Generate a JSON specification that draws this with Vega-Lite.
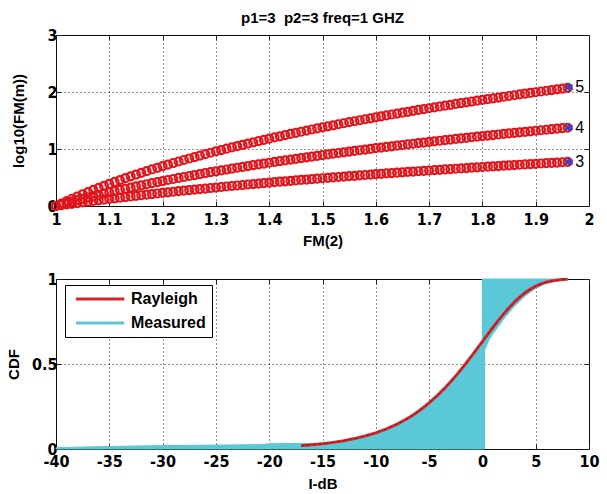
{
  "$schema": "https://vega.github.io/schema/vega-lite/v6.json",
  "background": "white",
  "padding": {"left": 5, "top": 10, "right": 5, "bottom": 5},
  "spacing": 73,
  "bounds": "flush",
  "config": {
    "view": {"stroke": "#111", "strokeWidth": 1},
    "axis": {
      "domain": false, "grid": true, "gridColor": "#000", "gridDash": [1, 3], "gridWidth": 1, "gridOpacity": 0.85,
      "tickColor": "#222", "tickSize": -5,
      "labelFont": "Liberation Sans Narrow, DejaVu Sans Condensed, sans-serif", "labelFontWeight": "bold", "labelFontSize": 16, "labelColor": "#000",
      "titleFont": "Liberation Sans, Arial, sans-serif", "titleFontWeight": "bold", "titleFontSize": 15, "titleColor": "#000",
      "labelFlush": false, "labelOverlap": false, "labelExpr": "'' + datum.value"
    },
    "legend": {
      "orient": "none", "legendX": 9, "legendY": 250, "symbolType": "M-0.5,0H7.4", "symbolSize": 150, "symbolStrokeWidth": 3,
      "labelFont": "Liberation Sans, Arial, sans-serif", "labelFontWeight": "bold", "labelFontSize": 16, "labelColor": "#000",
      "strokeColor": "#000", "fillColor": "#fff", "padding": 6, "rowPadding": 8, "labelOffset": 44, "cornerRadius": 0
    }
  },
  "vconcat": [
    {
      "width": 533,
      "height": 171,
      "title": {"text": "p1=3\u00a0 p2=3 freq=1 GHZ", "frame": "group", "offset": -11, "baseline": "alphabetic", "font": "Liberation Sans, Arial, sans-serif", "fontSize": 15, "fontWeight": "bold", "color": "#000"},
      "layer": [
        {
          "data": {"values": [
            {"x":1,"m3":0,"m4":0,"m5":0},
            {"x":1.01,"m3":0.0132,"m4":0.0263,"m5":0.0436},
            {"x":1.02,"m3":0.026,"m4":0.052,"m5":0.086},
            {"x":1.03,"m3":0.0389,"m4":0.0771,"m5":0.1273},
            {"x":1.04,"m3":0.052,"m4":0.102,"m5":0.167},
            {"x":1.05,"m3":0.0638,"m4":0.1257,"m5":0.2065},
            {"x":1.06,"m3":0.076,"m4":0.149,"m5":0.245},
            {"x":1.07,"m3":0.088,"m4":0.1725,"m5":0.2818},
            {"x":1.08,"m3":0.1,"m4":0.195,"m5":0.318},
            {"x":1.09,"m3":0.1115,"m4":0.2174,"m5":0.3536},
            {"x":1.1,"m3":0.123,"m4":0.239,"m5":0.388},
            {"x":1.11,"m3":0.1343,"m4":0.2606,"m5":0.4222},
            {"x":1.12,"m3":0.146,"m4":0.282,"m5":0.455},
            {"x":1.13,"m3":0.1565,"m4":0.3024,"m5":0.4879},
            {"x":1.14,"m3":0.167,"m4":0.323,"m5":0.52},
            {"x":1.15,"m3":0.1781,"m4":0.3427,"m5":0.5509},
            {"x":1.16,"m3":0.189,"m4":0.362,"m5":0.582},
            {"x":1.17,"m3":0.1992,"m4":0.3818,"m5":0.6116},
            {"x":1.18,"m3":0.21,"m4":0.401,"m5":0.641},
            {"x":1.19,"m3":0.2197,"m4":0.4196,"m5":0.67},
            {"x":1.2,"m3":0.23,"m4":0.438,"m5":0.698},
            {"x":1.21,"m3":0.2398,"m4":0.4562,"m5":0.7263},
            {"x":1.22,"m3":0.25,"m4":0.474,"m5":0.754},
            {"x":1.23,"m3":0.2593,"m4":0.4918,"m5":0.7808},
            {"x":1.24,"m3":0.269,"m4":0.509,"m5":0.807},
            {"x":1.25,"m3":0.2785,"m4":0.5264,"m5":0.8334},
            {"x":1.26,"m3":0.288,"m4":0.543,"m5":0.859},
            {"x":1.27,"m3":0.2971,"m4":0.56,"m5":0.8844},
            {"x":1.28,"m3":0.306,"m4":0.577,"m5":0.909},
            {"x":1.29,"m3":0.3154,"m4":0.5927,"m5":0.9339},
            {"x":1.3,"m3":0.324,"m4":0.609,"m5":0.958},
            {"x":1.31,"m3":0.3333,"m4":0.6246,"m5":0.9819},
            {"x":1.32,"m3":0.342,"m4":0.64,"m5":1.005},
            {"x":1.33,"m3":0.3508,"m4":0.6557,"m5":1.0285},
            {"x":1.34,"m3":0.36,"m4":0.671,"m5":1.051},
            {"x":1.35,"m3":0.368,"m4":0.686,"m5":1.0738},
            {"x":1.36,"m3":0.377,"m4":0.701,"m5":1.096},
            {"x":1.37,"m3":0.3848,"m4":0.7156,"m5":1.1179},
            {"x":1.38,"m3":0.393,"m4":0.73,"m5":1.14},
            {"x":1.39,"m3":0.4013,"m4":0.7445,"m5":1.1609},
            {"x":1.4,"m3":0.409,"m4":0.759,"m5":1.182},
            {"x":1.41,"m3":0.4175,"m4":0.7727,"m5":1.2028},
            {"x":1.42,"m3":0.426,"m4":0.787,"m5":1.223},
            {"x":1.43,"m3":0.4333,"m4":0.8004,"m5":1.2436},
            {"x":1.44,"m3":0.441,"m4":0.814,"m5":1.264},
            {"x":1.45,"m3":0.4489,"m4":0.8274,"m5":1.2835},
            {"x":1.46,"m3":0.457,"m4":0.841,"m5":1.303},
            {"x":1.47,"m3":0.4642,"m4":0.8539,"m5":1.3225},
            {"x":1.48,"m3":0.472,"m4":0.867,"m5":1.342},
            {"x":1.49,"m3":0.4793,"m4":0.8798,"m5":1.3605},
            {"x":1.5,"m3":0.487,"m4":0.893,"m5":1.379},
            {"x":1.51,"m3":0.494,"m4":0.9052,"m5":1.3977},
            {"x":1.52,"m3":0.501,"m4":0.918,"m5":1.416},
            {"x":1.53,"m3":0.5085,"m4":0.9301,"m5":1.4341},
            {"x":1.54,"m3":0.516,"m4":0.942,"m5":1.452},
            {"x":1.55,"m3":0.5228,"m4":0.9545,"m5":1.4698},
            {"x":1.56,"m3":0.53,"m4":0.967,"m5":1.487},
            {"x":1.57,"m3":0.5368,"m4":0.9785,"m5":1.5047},
            {"x":1.58,"m3":0.544,"m4":0.99,"m5":1.522},
            {"x":1.59,"m3":0.5507,"m4":1.002,"m5":1.5389},
            {"x":1.6,"m3":0.558,"m4":1.014,"m5":1.556},
            {"x":1.61,"m3":0.5642,"m4":1.0251,"m5":1.5724},
            {"x":1.62,"m3":0.571,"m4":1.037,"m5":1.589},
            {"x":1.63,"m3":0.5776,"m4":1.0477,"m5":1.6052},
            {"x":1.64,"m3":0.584,"m4":1.059,"m5":1.621},
            {"x":1.65,"m3":0.5908,"m4":1.07,"m5":1.6374},
            {"x":1.66,"m3":0.597,"m4":1.081,"m5":1.653},
            {"x":1.67,"m3":0.6038,"m4":1.0919,"m5":1.6691},
            {"x":1.68,"m3":0.61,"m4":1.103,"m5":1.685},
            {"x":1.69,"m3":0.6166,"m4":1.1134,"m5":1.7001},
            {"x":1.7,"m3":0.623,"m4":1.124,"m5":1.715},
            {"x":1.71,"m3":0.6292,"m4":1.1346,"m5":1.7306},
            {"x":1.72,"m3":0.635,"m4":1.145,"m5":1.746},
            {"x":1.73,"m3":0.6416,"m4":1.1554,"m5":1.7606},
            {"x":1.74,"m3":0.648,"m4":1.166,"m5":1.775},
            {"x":1.75,"m3":0.6538,"m4":1.1759,"m5":1.79},
            {"x":1.76,"m3":0.66,"m4":1.186,"m5":1.805},
            {"x":1.77,"m3":0.6659,"m4":1.1961,"m5":1.819},
            {"x":1.78,"m3":0.672,"m4":1.206,"m5":1.833},
            {"x":1.79,"m3":0.6778,"m4":1.2159,"m5":1.8474},
            {"x":1.8,"m3":0.684,"m4":1.226,"m5":1.862},
            {"x":1.81,"m3":0.6895,"m4":1.2355,"m5":1.8754},
            {"x":1.82,"m3":0.695,"m4":1.245,"m5":1.889},
            {"x":1.83,"m3":0.7011,"m4":1.2548,"m5":1.903},
            {"x":1.84,"m3":0.707,"m4":1.264,"m5":1.917},
            {"x":1.85,"m3":0.7125,"m4":1.2737,"m5":1.9301},
            {"x":1.86,"m3":0.718,"m4":1.283,"m5":1.943},
            {"x":1.87,"m3":0.7238,"m4":1.2924,"m5":1.9567},
            {"x":1.88,"m3":0.729,"m4":1.302,"m5":1.97},
            {"x":1.89,"m3":0.7349,"m4":1.3109,"m5":1.983},
            {"x":1.9,"m3":0.74,"m4":1.32,"m5":1.996},
            {"x":1.91,"m3":0.7459,"m4":1.329,"m5":2.0089},
            {"x":1.92,"m3":0.751,"m4":1.338,"m5":2.022},
            {"x":1.93,"m3":0.7568,"m4":1.347,"m5":2.0344},
            {"x":1.94,"m3":0.762,"m4":1.356,"m5":2.047},
            {"x":1.95,"m3":0.7675,"m4":1.3646,"m5":2.0595},
            {"x":1.96,"m3":0.773,"m4":1.373,"m5":2.072}
          ]},
          "transform": [{"fold": ["m3", "m4", "m5"], "as": ["curve", "y"]}],
          "mark": {"type": "point", "shape": "circle", "filled": false, "color": "#e3141b", "strokeWidth": 2.2, "size": 64, "opacity": 1, "clip": false},
          "encoding": {
            "x": {"field": "x", "type": "quantitative", "scale": {"domain": [1, 2], "nice": false, "zero": false},
                  "axis": {"values": [1, 1.1, 1.2, 1.3, 1.4, 1.5, 1.6, 1.7, 1.8, 1.9, 2], "title": "FM(2)", "labelPadding": 10, "titleY": 27}},
            "y": {"field": "y", "type": "quantitative", "scale": {"domain": [0, 3], "nice": false},
                  "axis": {"values": [0, 1, 2, 3], "title": "log10(FM(m))", "labelPadding": 4, "titleX": -30}},
            "detail": {"field": "curve", "type": "nominal"}
          }
        },
        {
          "data": {"values": [
            {"x": 1.963, "y": 0.776, "lab": "3"},
            {"x": 1.963, "y": 1.376, "lab": "4"},
            {"x": 1.963, "y": 2.085, "lab": "5"}
          ]},
          "mark": {"type": "point", "shape": "M0,-1L0.29,-0.5L0.87,-0.5L0.58,0L0.87,0.5L0.29,0.5L0,1L-0.29,0.5L-0.87,0.5L-0.58,0L-0.87,-0.5L-0.29,-0.5Z", "filled": true, "color": "#4040c0", "size": 90, "opacity": 1, "clip": false},
          "encoding": {
            "x": {"field": "x", "type": "quantitative", "axis": {"orient": "top", "labels": false, "title": null, "grid": false, "minExtent": 0, "maxExtent": 0, "values": [1, 1.1, 1.2, 1.3, 1.4, 1.5, 1.6, 1.7, 1.8, 1.9, 2]}},
            "y": {"field": "y", "type": "quantitative", "axis": {"orient": "right", "labels": false, "title": null, "grid": false, "minExtent": 0, "maxExtent": 0, "values": [0, 1, 2, 3]}}
          }
        },
        {
          "data": {"values": [
            {"x": 1.963, "y": 0.776, "lab": "3"},
            {"x": 1.963, "y": 1.376, "lab": "4"},
            {"x": 1.963, "y": 2.085, "lab": "5"}
          ]},
          "mark": {"type": "text", "align": "left", "baseline": "middle", "dx": 6, "font": "Liberation Sans, Arial, sans-serif", "fontSize": 16, "color": "#000"},
          "encoding": {
            "x": {"field": "x", "type": "quantitative", "axis": null},
            "y": {"field": "y", "type": "quantitative", "axis": null},
            "text": {"field": "lab"}
          }
        }
      ],
      "resolve": {"axis": {"x": "independent", "y": "independent"}}
    },
    {
      "width": 533,
      "height": 170,
      "layer": [
        {
          "data": {"values": [
            {"x": -40, "lo": 0, "hi": 0.008},
            {"x": -35, "lo": 0, "hi": 0.015},
            {"x": -30, "lo": 0, "hi": 0.02},
            {"x": -25, "lo": 0, "hi": 0.023},
            {"x": -20.5, "lo": 0, "hi": 0.026},
            {"x": -20, "lo": 0, "hi": 0.031},
            {"x": -17, "lo": 0, "hi": 0.032},
            {"x": -15, "lo": 0, "hi": 0.033},
            {"x": -14, "lo": 0, "hi": 0.039},
            {"x": -13, "lo": 0, "hi": 0.049},
            {"x": -12, "lo": 0, "hi": 0.061},
            {"x": -11, "lo": 0, "hi": 0.076},
            {"x": -10, "lo": 0, "hi": 0.095},
            {"x": -9, "lo": 0, "hi": 0.118},
            {"x": -8, "lo": 0, "hi": 0.147},
            {"x": -7, "lo": 0, "hi": 0.181},
            {"x": -6, "lo": 0, "hi": 0.222},
            {"x": -5, "lo": 0, "hi": 0.271},
            {"x": -4, "lo": 0, "hi": 0.328},
            {"x": -3, "lo": 0, "hi": 0.394},
            {"x": -2, "lo": 0, "hi": 0.468},
            {"x": -1, "lo": 0, "hi": 0.548},
            {"x": -0.5, "lo": 0, "hi": 0.59},
            {"x": 0, "lo": 0, "hi": 0.632},
            {"x": 0, "lo": 0, "hi": 1},
            {"x": 0.2, "lo": 0, "hi": 1},
            {"x": 0.2, "lo": 0.58, "hi": 1},
            {"x": 0.6, "lo": 0.64, "hi": 1},
            {"x": 1, "lo": 0.68, "hi": 1},
            {"x": 1.5, "lo": 0.72, "hi": 1},
            {"x": 2, "lo": 0.765, "hi": 1},
            {"x": 3, "lo": 0.84, "hi": 1},
            {"x": 4, "lo": 0.9, "hi": 1},
            {"x": 5, "lo": 0.945, "hi": 1},
            {"x": 6, "lo": 0.975, "hi": 1},
            {"x": 7, "lo": 0.99, "hi": 1},
            {"x": 8, "lo": 0.998, "hi": 1}
          ]},
          "mark": {"type": "area", "fill": "#5ac8d6", "fillOpacity": 1, "strokeWidth": 1, "interpolate": "linear"},
          "encoding": {
            "x": {"field": "x", "type": "quantitative", "scale": {"domain": [-40, 10], "nice": false, "zero": false},
                  "axis": {"values": [-40, -35, -30, -25, -20, -15, -10, -5, 0, 5, 10], "title": "I-dB", "labelPadding": 9, "titleY": 27}},
            "y": {"field": "hi", "type": "quantitative", "scale": {"domain": [0, 1], "nice": false},
                  "axis": {"values": [0, 0.5, 1], "title": "CDF", "labelPadding": 4, "titleX": -35}},
            "y2": {"field": "lo"},
            "stroke": {"datum": "Measured", "type": "nominal", "scale": {"domain": ["Rayleigh", "Measured"], "range": ["#d8232a", "#5ac8d6"]}, "legend": {"title": null}}
          }
        },
        {
          "data": {"name": "ray", "values": [
            {"x": -17, "y": 0.0198}, {"x": -16, "y": 0.0248}, {"x": -15, "y": 0.0311}, {"x": -14, "y": 0.039},
            {"x": -13, "y": 0.0489}, {"x": -12, "y": 0.0612}, {"x": -11, "y": 0.0764}, {"x": -10, "y": 0.0952},
            {"x": -9, "y": 0.1183}, {"x": -8, "y": 0.1466}, {"x": -7.5, "y": 0.1629}, {"x": -7, "y": 0.1809},
            {"x": -6.5, "y": 0.2006}, {"x": -6, "y": 0.2221}, {"x": -5.5, "y": 0.2456}, {"x": -5, "y": 0.2711},
            {"x": -4.5, "y": 0.2987}, {"x": -4, "y": 0.3284}, {"x": -3.5, "y": 0.3602}, {"x": -3, "y": 0.3942},
            {"x": -2.5, "y": 0.4301}, {"x": -2, "y": 0.4679}, {"x": -1.5, "y": 0.5073}, {"x": -1, "y": 0.5481},
            {"x": -0.5, "y": 0.5899}, {"x": 0, "y": 0.6321}, {"x": 0.5, "y": 0.6744}, {"x": 1, "y": 0.7161},
            {"x": 1.5, "y": 0.7565}, {"x": 2, "y": 0.7951}, {"x": 2.5, "y": 0.8311}, {"x": 3, "y": 0.864},
            {"x": 3.5, "y": 0.8934}, {"x": 4, "y": 0.9189}, {"x": 4.5, "y": 0.9403}, {"x": 5, "y": 0.9577},
            {"x": 5.5, "y": 0.9712}, {"x": 6, "y": 0.9813}, {"x": 6.5, "y": 0.9885}, {"x": 7, "y": 0.9933},
            {"x": 7.5, "y": 0.9964}, {"x": 8, "y": 0.9982}
          ]},
          "mark": {"type": "line", "strokeWidth": 3},
          "encoding": {
            "x": {"field": "x", "type": "quantitative", "axis": {"orient": "top", "labels": false, "title": null, "grid": false, "minExtent": 0, "maxExtent": 0, "values": [-40, -35, -30, -25, -20, -15, -10, -5, 0, 5, 10]}},
            "y": {"field": "y", "type": "quantitative", "axis": {"orient": "right", "labels": false, "title": null, "grid": false, "minExtent": 0, "maxExtent": 0, "values": [0, 0.5, 1]}},
            "stroke": {"datum": "Rayleigh", "type": "nominal"}
          }
        },
        {
          "data": {"name": "ray"},
          "mark": {"type": "line", "strokeWidth": 1, "color": "#4a2a2a", "strokeDash": [3, 3], "opacity": 0.7},
          "encoding": {
            "x": {"field": "x", "type": "quantitative", "axis": null},
            "y": {"field": "y", "type": "quantitative", "axis": null}
          }
        }
      ],
      "resolve": {"axis": {"x": "independent", "y": "independent"}}
    }
  ]
}
